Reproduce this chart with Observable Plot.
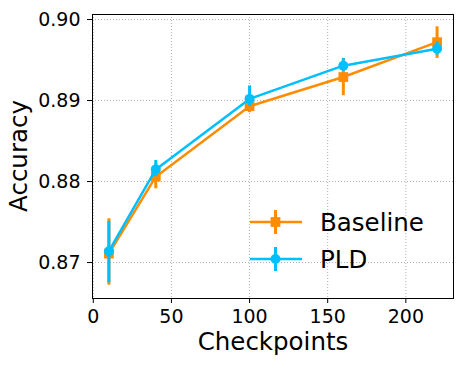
<!DOCTYPE html>
<html><head><meta charset="utf-8">
<script src="https://cdn.jsdelivr.net/npm/d3@7"></script>
<script src="https://cdn.jsdelivr.net/npm/@observablehq/plot@0.6"></script>
<style>body{margin:0;background:#fff}</style>
</head><body><div id="chart"></div>
<script>
const checkpoints = [10, 40, 100, 160, 220];
const baselineAcc = [0.8711, 0.8806, 0.8893, 0.8929, 0.8972];
const baselineLo  = [0.8672, 0.8791, 0.8885, 0.8906, 0.8952];
const baselineHi  = [0.8754, 0.8822, 0.8900, 0.8952, 0.8991];
const pldAcc = [0.8714, 0.8815, 0.8902, 0.8943, 0.8964];
const pldLo  = [0.8675, 0.8806, 0.8893, 0.8936, 0.8956];
const pldHi  = [0.8751, 0.8826, 0.8918, 0.8952, 0.8972];
const xTicks = [0, 50, 100, 150, 200];
const yTicks = [0.87, 0.88, 0.89, 0.90];
const seriesNames = ["Baseline", "PLD"];
const seriesColors = ["#ff8c00", "#00bfff"];
const xLabel = "Checkpoints";
const yLabel = "Accuracy";

const rows = (acc, lo, hi) => checkpoints.map((x, i) => ({x, y: acc[i], lo: lo[i], hi: hi[i]}));
const base = rows(baselineAcc, baselineLo, baselineHi);
const pld = rows(pldAcc, pldLo, pldHi);

const grid = {stroke: "#b0b0b0", strokeOpacity: 1, strokeDasharray: "1,2", strokeWidth: 1};

const chart = Plot.plot({
  width: 466, height: 366,
  marginLeft: 92, marginRight: 13, marginTop: 14, marginBottom: 68,
  x: {domain: [-0.5, 230.5]},
  y: {domain: [0.86556, 0.90062]},
  style: {fontFamily: "DejaVu Sans", fontSize: "19px", color: "black", background: "white"},
  marks: [
    Plot.gridX(xTicks, grid),
    Plot.gridY(yTicks, grid),
    Plot.axisX(xTicks, {tickSize: 5, tickPadding: 6, label: null}),
    Plot.axisY(yTicks, {tickSize: 5, tickPadding: 7, tickFormat: d3.format(".2f"), label: null}),
    Plot.line(base, {x: "x", y: "y", stroke: seriesColors[0], strokeWidth: 2.5}),
    Plot.ruleX(base, {x: "x", y1: "lo", y2: "hi", stroke: seriesColors[0], strokeWidth: 3}),
    Plot.dot(base, {x: "x", y: "y", symbol: "square", r: 5.5, fill: seriesColors[0], stroke: null}),
    Plot.line(pld, {x: "x", y: "y", stroke: seriesColors[1], strokeWidth: 2.5}),
    Plot.ruleX(pld, {x: "x", y1: "lo", y2: "hi", stroke: seriesColors[1], strokeWidth: 3}),
    Plot.dot(pld, {x: "x", y: "y", symbol: "circle", r: 5, fill: seriesColors[1], stroke: null}),
    Plot.frame({stroke: "black", strokeWidth: 1})
  ]
});
document.getElementById("chart").append(chart);

const svg = d3.select(chart);
svg.append("text").attr("x", 273).attr("y", 350).attr("text-anchor", "middle")
  .attr("font-size", 24.5).attr("fill", "black").text(xLabel);
svg.append("text").attr("transform", "translate(27,156) rotate(-90)").attr("text-anchor", "middle")
  .attr("font-size", 24.5).attr("fill", "black").text(yLabel);

// legend
const lg = svg.append("g");
const symbols = [d3.symbolSquare, d3.symbolCircle];
const sizes = [5.5 * 5.5 * Math.PI, 5 * 5 * Math.PI];
seriesNames.forEach((name, i) => {
  const cy = 222 + i * 37;
  lg.append("line").attr("x1", 250).attr("x2", 302).attr("y1", cy).attr("y2", cy)
    .attr("stroke", seriesColors[i]).attr("stroke-width", 2.5);
  lg.append("line").attr("x1", 275.5).attr("x2", 275.5).attr("y1", cy - 12).attr("y2", cy + 12)
    .attr("stroke", seriesColors[i]).attr("stroke-width", 3);
  lg.append("path").attr("d", d3.symbol(symbols[i], sizes[i])()).attr("transform", `translate(275.5,${cy})`)
    .attr("fill", seriesColors[i]);
  lg.append("text").attr("x", 320).attr("y", cy + 9).attr("text-anchor", "start")
    .attr("font-size", 24.5).attr("fill", "black").text(name);
});
</script>
</body></html>
